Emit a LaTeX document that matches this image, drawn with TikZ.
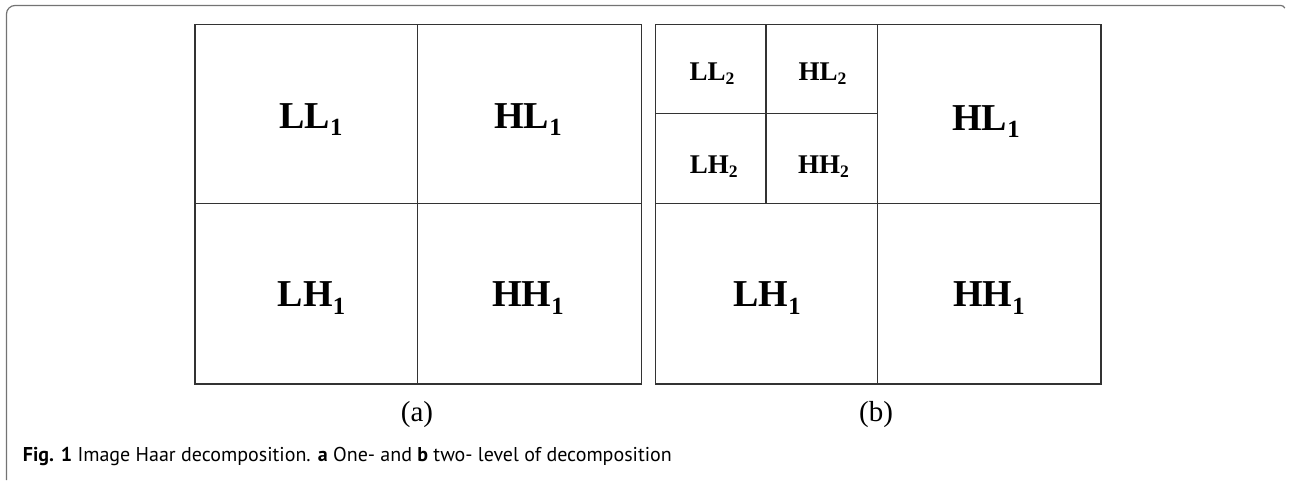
\documentclass[tikz,border=0pt]{standalone}
\usepackage{fontspec}
\setmainfont{Liberation Serif}
\newfontfamily\capfont{PT Sans}
\usepackage{graphicx}
\newcommand\sbl[3]{\textbf{#1}\raisebox{-#3}{\scalebox{0.65}{\textbf{#2}}}}
\tikzset{
  gridline/.style={draw=black!80, line width=1.3pt},
  framel/.style={draw=black!55, line width=1.2pt},
  biglbl/.style={anchor=base, inner sep=0pt, font=\fontsize{38}{40}\selectfont},
  smalllbl/.style={anchor=base, inner sep=0pt, font=\fontsize{27}{29}\selectfont},
  sublbl/.style={anchor=base, inner sep=0pt, font=\fontsize{29}{31}\selectfont},
  captext/.style={anchor=base west, inner sep=0pt, font=\capfont\fontsize{20}{22}\selectfont},
}
\begin{document}
\begin{tikzpicture}[x=1pt,y=-1pt]
\useasboundingbox (0,0) rectangle (1289,480);
% frame
\draw[framel] (6.5,480) -- (6.5,14) arc[start angle=180,end angle=270,radius=8.5] -- (1281,5.5) arc[start angle=270,end angle=340,radius=4];
% grid (a)
\draw[gridline] (195,24.7) rectangle (641.7,384);
\draw[gridline] (417.7,24.7) -- (417.7,384);
\draw[gridline] (195,203.3) -- (641.7,203.3);
% grid (b)
\draw[gridline] (655.3,24.7) rectangle (1101,384);
\draw[gridline] (877.3,24.7) -- (877.3,384);
\draw[gridline] (655.3,203.3) -- (1101,203.3);
\draw[gridline] (766,24.7) -- (766,203.3);
\draw[gridline] (655.3,113.3) -- (877.3,113.3);
% labels (a)
\node[biglbl] (aLL) at (311,128) {\sbl{LL}{1}{0.2em}};
\node[biglbl] (aHL) at (528,128) {\sbl{HL}{1}{0.2em}};
\node[biglbl] (aLH) at (311.5,306.7) {\sbl{LH}{1}{0.2em}};
\node[biglbl] (aHH) at (528,306.7) {\sbl{HH}{1}{0.2em}};
% labels (b)
\node[smalllbl] (bLL2) at (712,80) {\sbl{LL}{2}{0.16em}};
\node[smalllbl] (bHL2) at (822.5,80) {\sbl{HL}{2}{0.16em}};
\node[smalllbl] (bLH2) at (713.7,173) {\sbl{LH}{2}{0.16em}};
\node[smalllbl] (bHH2) at (823.5,173) {\sbl{HH}{2}{0.16em}};
\node[biglbl] (bHL1) at (986,130) {\sbl{HL}{1}{0.2em}};
\node[biglbl] (bLH1) at (767,306.7) {\sbl{LH}{1}{0.2em}};
\node[biglbl] (bHH1) at (989,306.7) {\sbl{HH}{1}{0.2em}};
% sublabels
\node[sublbl] (suba) at (417,421) {(a)};
\node[sublbl] (subb) at (876,421) {(b)};
% caption
\node[captext] (cap) at (22.7,461.5) {\textbf{Fig. 1} Image Haar decomposition. \textbf{a} One- and \textbf{b} two- level of decomposition};
\end{tikzpicture}
\end{document}
